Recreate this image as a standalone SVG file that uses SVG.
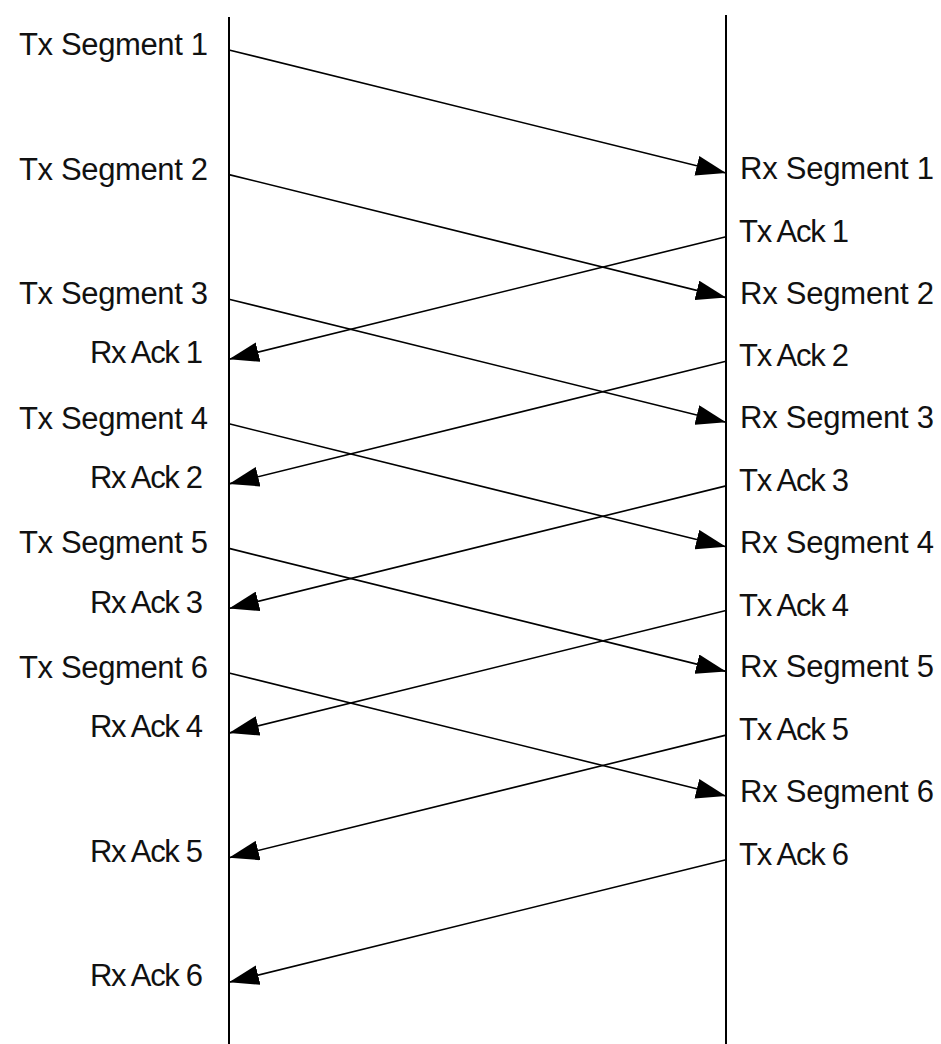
<svg xmlns="http://www.w3.org/2000/svg" width="941" height="1044" viewBox="0 0 941 1044">
<style>
text{font-family:"Liberation Sans",Arial,sans-serif;font-size:31px;fill:#111}
.life{stroke:#000;stroke-width:2;fill:none}
.msg{stroke:#000;stroke-width:1.6;fill:none;marker-end:url(#ah)}
</style>
<defs>
<marker id="ah" viewBox="0 0 30 20" refX="30" refY="10" markerWidth="30" markerHeight="20" markerUnits="userSpaceOnUse" orient="auto">
<path d="M0,0 L30,10 L0,20 z" fill="#000"/>
</marker>
</defs>
<rect width="941" height="1044" fill="#fff"/>
<g id="lifelines">
<line class="life" x1="229" y1="17" x2="229" y2="1044"/>
<line class="life" x1="726" y1="15" x2="726" y2="1044"/>
</g>
<g id="connectors">
<line class="msg" x1="229" y1="50" x2="726" y2="173"/>
<line class="msg" x1="229" y1="174.6" x2="726" y2="297.6"/>
<line class="msg" x1="229" y1="299.2" x2="726" y2="422.2"/>
<line class="msg" x1="229" y1="423.8" x2="726" y2="546.8"/>
<line class="msg" x1="229" y1="548.4" x2="726" y2="671.4"/>
<line class="msg" x1="229" y1="673" x2="726" y2="796"/>
<line class="msg" x1="726" y1="236.7" x2="229" y2="359.3"/>
<line class="msg" x1="726" y1="361.3" x2="229" y2="483.9"/>
<line class="msg" x1="726" y1="485.9" x2="229" y2="608.5"/>
<line class="msg" x1="726" y1="610.5" x2="229" y2="733.1"/>
<line class="msg" x1="726" y1="735.1" x2="229" y2="857.7"/>
<line class="msg" x1="726" y1="859.7" x2="229" y2="982.3"/>
</g>
<g id="tx-segments">
<text id="txseg1" x="19" y="55" textLength="189">Tx Segment 1</text>
<text id="txseg2" x="19" y="179.6" textLength="189">Tx Segment 2</text>
<text id="txseg3" x="19" y="304.2" textLength="189">Tx Segment 3</text>
<text id="txseg4" x="19" y="428.8" textLength="189">Tx Segment 4</text>
<text id="txseg5" x="19" y="553.4" textLength="189">Tx Segment 5</text>
<text id="txseg6" x="19" y="678" textLength="189">Tx Segment 6</text>
</g>
<g id="rx-acks">
<text id="rxack1" x="90" y="363.3" textLength="113">Rx Ack 1</text>
<text id="rxack2" x="90" y="487.9" textLength="113">Rx Ack 2</text>
<text id="rxack3" x="90" y="612.5" textLength="113">Rx Ack 3</text>
<text id="rxack4" x="90" y="737.1" textLength="113">Rx Ack 4</text>
<text id="rxack5" x="90" y="861.7" textLength="113">Rx Ack 5</text>
<text id="rxack6" x="90" y="986.3" textLength="113">Rx Ack 6</text>
</g>
<g id="rx-segments">
<text id="rxseg1" x="740" y="179" textLength="194">Rx Segment 1</text>
<text id="rxseg2" x="740" y="303.6" textLength="194">Rx Segment 2</text>
<text id="rxseg3" x="740" y="428.2" textLength="194">Rx Segment 3</text>
<text id="rxseg4" x="740" y="552.8" textLength="194">Rx Segment 4</text>
<text id="rxseg5" x="740" y="677.4" textLength="194">Rx Segment 5</text>
<text id="rxseg6" x="740" y="802" textLength="194">Rx Segment 6</text>
</g>
<g id="tx-acks">
<text id="txack1" x="739" y="241.7" textLength="110">Tx Ack 1</text>
<text id="txack2" x="739" y="366.3" textLength="110">Tx Ack 2</text>
<text id="txack3" x="739" y="490.9" textLength="110">Tx Ack 3</text>
<text id="txack4" x="739" y="615.5" textLength="110">Tx Ack 4</text>
<text id="txack5" x="739" y="740.1" textLength="110">Tx Ack 5</text>
<text id="txack6" x="739" y="864.7" textLength="110">Tx Ack 6</text>
</g>
</svg>
